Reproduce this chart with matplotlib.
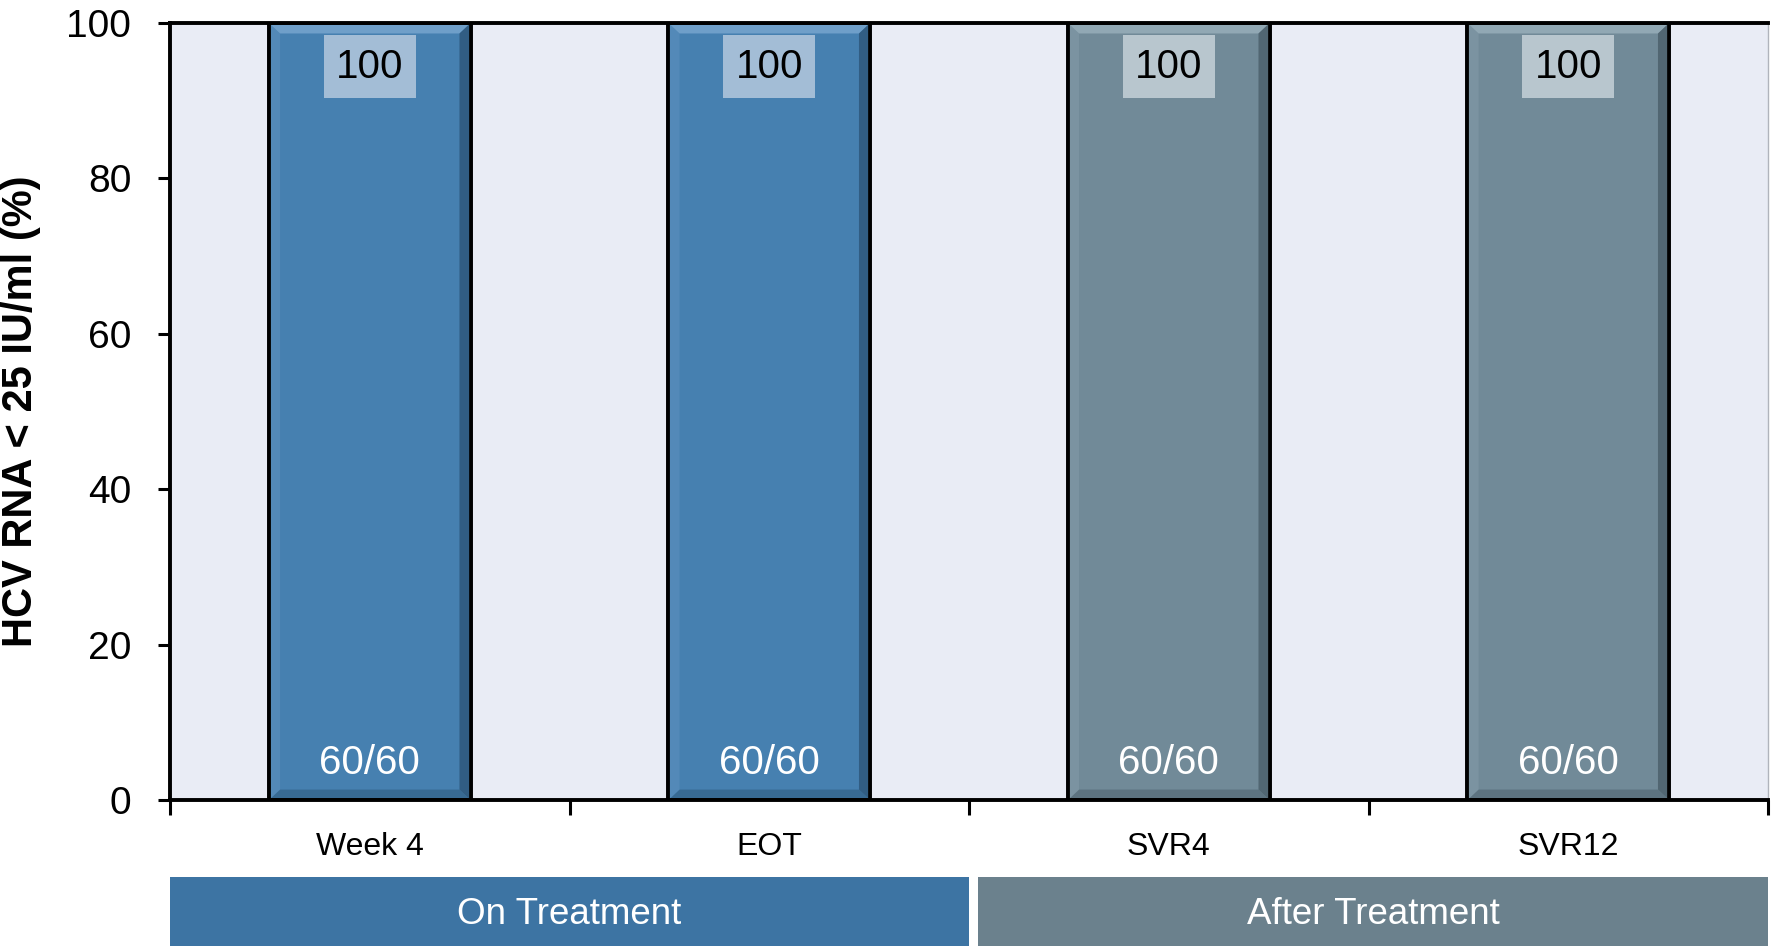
import matplotlib.pyplot as plt
from matplotlib.patches import Polygon, Rectangle

plt.rcParams['font.family'] = ['Liberation Sans', 'DejaVu Sans']

# dados
categorias = ["Week 4", "EOT", "SVR4", "SVR12"]
valores = [100, 100, 100, 100]
contagens = ["60/60", "60/60", "60/60", "60/60"]
grupos = ["On Treatment", "After Treatment"]

cor_on = "#4680B0"
cor_after = "#718A98"
cores = [cor_on, cor_on, cor_after, cor_after]
cor_caixa = {cor_on: "#A3BDD6", cor_after: "#B8C6CE"}
cor_luz = {cor_on: "#7AA7D0", cor_after: "#9AB0BC"}
cor_sombra = {cor_on: "#2C5578", cor_after: "#4A5E69"}

fig = plt.figure(figsize=(17.73, 9.46), dpi=100)
ax = fig.add_axes([0.0959, 0.1543, 0.9013, 0.8214])
ax.set_facecolor("#E9ECF5")

x = list(range(len(categorias)))
barras = ax.bar(x, valores, width=0.505, color=cores, edgecolor="black", linewidth=2.6, zorder=2)

ax.set_xlim(-0.5, 3.5)
ax.set_ylim(0, 100)

# efeito de chanfro nas barras
bx = 0.028
by = 1.35
for b, c in zip(barras, cores):
    x0, y0 = b.get_x(), b.get_y()
    x1, y1 = x0 + b.get_width(), y0 + b.get_height()
    faces = [
        ([(x0, y1), (x1, y1), (x1 - bx, y1 - by), (x0 + bx, y1 - by)], cor_luz[c], 0.8),
        ([(x1, y1), (x1, y0), (x1 - bx, y0 + by), (x1 - bx, y1 - by)], cor_sombra[c], 0.8),
        ([(x0, y0), (x1, y0), (x1 - bx, y0 + by), (x0 + bx, y0 + by)], cor_sombra[c], 0.5),
        ([(x0, y1), (x0, y0), (x0 + bx, y0 + by), (x0 + bx, y1 - by)], cor_luz[c], 0.25),
    ]
    for pts, fc, a in faces:
        ax.add_patch(Polygon(pts, closed=True, facecolor=fc, edgecolor="none", alpha=a, zorder=2.5))
    ax.add_patch(Rectangle((x0, y0), b.get_width(), b.get_height(), fill=False,
                           edgecolor="black", linewidth=2.6, zorder=3))

for xi, v, n, c in zip(x, valores, contagens, cores):
    ax.text(xi, v - 5.6, f"{v}", ha="center", va="center", fontsize=29, color="black", zorder=4,
            bbox=dict(boxstyle="square,pad=0.3", facecolor=cor_caixa[c], edgecolor="none"))
    ax.text(xi, 4.8, n, ha="center", va="center", fontsize=29, color="white", zorder=4)

# eixos
ax.set_yticks(range(0, 101, 20))
ax.tick_params(axis="y", labelsize=28, length=9, width=2.2, pad=19, direction="out")
ax.set_xticks([-0.5, 0.5, 1.5, 2.5, 3.5])
ax.set_xticklabels([])
ax.tick_params(axis="x", which="major", length=11, width=2.2, direction="out")
ax.set_xticks(x, minor=True)
ax.set_xticklabels(categorias, minor=True)
ax.tick_params(axis="x", which="minor", length=0, labelsize=23, pad=23)

ax.set_ylabel("HCV RNA < 25 IU/ml (%)", fontsize=30, fontweight="bold")
ax.yaxis.set_label_coords(-0.081, 0.5)

for s in ["left", "bottom", "top"]:
    ax.spines[s].set_linewidth(2.8)
    ax.spines[s].set_color("black")
ax.spines["right"].set_color("#B0B4BC")
ax.spines["right"].set_linewidth(1)

# faixas de grupo
ax2 = fig.add_axes([0.0959, 0.0, 0.9013, 0.073])
ax2.set_xlim(-0.5, 3.5)
ax2.set_ylim(0, 1)
ax2.axis("off")
ax2.add_patch(Rectangle((-0.5, 0), 2.0, 1, facecolor="#3D74A3", edgecolor="none"))
ax2.add_patch(Rectangle((1.522, 0), 1.978, 1, facecolor="#6B818D", edgecolor="none"))
ax2.text(0.5, 0.45, grupos[0], ha="center", va="center", fontsize=26.5, color="white")
ax2.text(2.511, 0.45, grupos[1], ha="center", va="center", fontsize=26.5, color="white")

fig.savefig("out.png", dpi=100)
